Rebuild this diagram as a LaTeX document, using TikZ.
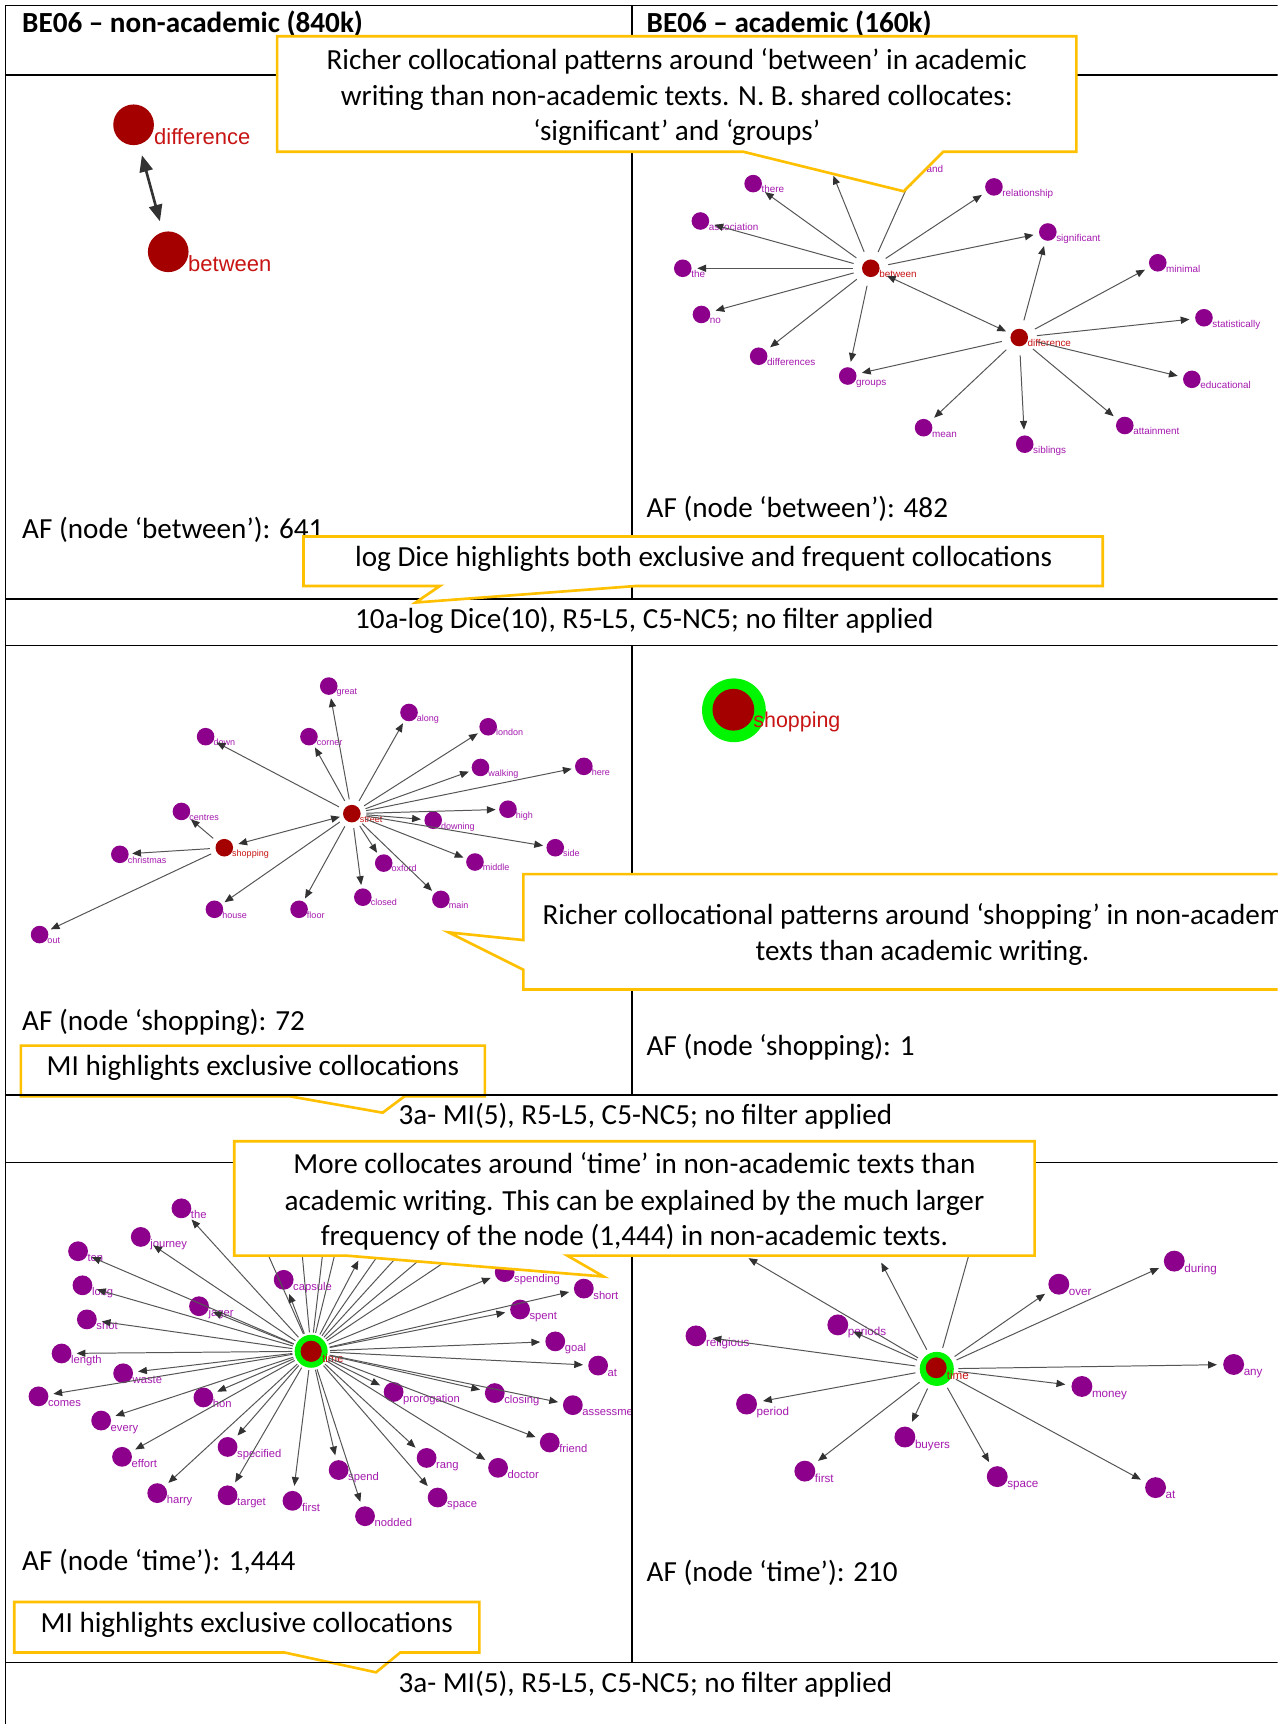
\documentclass[tikz,border=0pt]{standalone}
\usepackage{fontspec}
\setmainfont{Carlito}
\newfontfamily\grfont{Liberation Sans}
\usetikzlibrary{arrows.meta}
\definecolor{purp}{RGB}{140,0,140}
\definecolor{plab}{RGB}{165,25,175}
\definecolor{dred}{RGB}{165,0,0}
\definecolor{rlab}{RGB}{200,20,20}
\definecolor{ringg}{RGB}{0,245,0}
\definecolor{cyel}{RGB}{255,192,0}
\definecolor{egray}{RGB}{85,85,85}
\definecolor{ahead}{RGB}{50,50,50}
\newcommand\PN[4]{\node[pn] (#1) at (#2,#3) {}; \node[lb] (#1-l) at ([shift={(\lx,\ly)}]#1.center) {#4};}
\newcommand\RN[4]{\node[rn] (#1) at (#2,#3) {}; \node[lb,text=rlab] (#1-l) at ([shift={(\lx,\ly)}]#1.center) {#4};}
\begin{document}
\begin{tikzpicture}[x=1pt,y=-1pt,
  pn/.style={circle,fill=purp,inner sep=0pt,minimum size=16pt},
  rn/.style={circle,fill=dred,inner sep=0pt,minimum size=16pt},
  lb/.style={anchor=base west,inner sep=0pt,text=plab,font=\grfont\fontsize{9}{10}\selectfont},
  ed/.style={draw=egray,line width=0.9pt,-{Triangle[length=8pt,width=6.5pt,color=ahead]},shorten >=5pt,shorten <=5pt},
  ded/.style={ed,{Triangle[length=8pt,width=6.5pt,color=ahead]}-{Triangle[length=8pt,width=6.5pt,color=ahead]}},
  ln/.style={draw=egray,line width=0.9pt},
  tl/.style={line width=1.6pt},
  thl/.style={line width=1.1pt},
  txt/.style={inner sep=0pt,font=\fontsize{26.5}{32}\selectfont},
  co/.style={draw=cyel,line width=2.4pt,fill=white,line join=miter},
  big/.style={anchor=base west,inner sep=0pt,text=rlab,font=\grfont\fontsize{20}{22}\selectfont},
]
\useasboundingbox (0,0) rectangle (1162,1568);
\clip (0,0) rectangle (1162,1568);
\fill[white] (0,0) rectangle (1162,1568);

% ---------- graph 1 ----------
\node[circle,fill=dred,inner sep=0pt,minimum size=37pt] (g1diff) at (121.5,113.5) {};
\node[big] (g1diff-l) at (140,131) {difference};
\node[circle,fill=dred,inner sep=0pt,minimum size=37pt] (g1betw) at (153,229) {};
\node[big] (g1betw-l) at (171,247) {between};
\draw[line width=2.4pt,draw=ahead,{Triangle[length=15pt,width=12pt]}-{Triangle[length=15pt,width=12pt]},shorten <=10pt,shorten >=10pt] (g1diff) -- (g1betw);

% ---------- graph 2 ----------
\begin{scope}[ed/.append style={shorten >=5pt,shorten <=8pt}]
\def\lx{7.5}\def\ly{8.5}
\RN{g2betw}{792}{244}{between}
\RN{g2diff}{927}{307}{difference}
\PN{g2there}{685}{167}{there}
\PN{g2assoc}{637}{201}{association}
\PN{g2the}{621}{244}{the}
\PN{g2no}{638}{286}{no}
\PN{g2diffs}{690}{324}{differences}
\PN{g2groups}{771}{342}{groups}
\PN{g2rel}{904}{170}{relationship}
\PN{g2sig}{953}{211}{significant}
\PN{g2min}{1053}{239}{minimal}
\PN{g2stat}{1095}{289}{statistically}
\PN{g2edu}{1084}{345}{educational}
\PN{g2att}{1023}{387}{attainment}
\PN{g2sib}{932}{404}{siblings}
\PN{g2mean}{840}{389}{mean}
\PN{g2and}{835}{148}{and}
\coordinate (g2h) at (756,155);
\foreach \t in {g2there,g2assoc,g2the,g2no,g2diffs,g2groups,g2rel,g2sig,g2and,g2h}
  \draw[ed] (g2betw) -- (\t);
\foreach \t in {g2sig,g2min,g2stat,g2edu,g2att,g2sib,g2mean,g2groups}
  \draw[ed] (g2diff) -- (\t);
\draw[ded] (g2betw) -- (g2diff);
\end{scope}

% ---------- graph 3 ----------
\begin{scope}[lb/.append style={font=\grfont\fontsize{8.2}{9}\selectfont},ed/.append style={shorten >=3pt,shorten <=5pt}]
\def\lx{7}\def\ly{8}
\RN{g3street}{320}{740}{street}
\RN{g3shop}{204}{771}{shopping}
\PN{g3great}{299}{624}{great}
\PN{g3along}{372}{648}{along}
\PN{g3london}{444}{661}{london}
\PN{g3down}{187}{670}{down}
\PN{g3corner}{281}{670}{corner}
\PN{g3walk}{437}{698}{walking}
\PN{g3here}{531}{697}{here}
\PN{g3centres}{165}{738}{centres}
\PN{g3high}{462}{736}{high}
\PN{g3downing}{394}{746}{downing}
\PN{g3side}{505}{771}{side}
\PN{g3xmas}{109}{777}{christmas}
\PN{g3oxford}{349}{785}{oxford}
\PN{g3middle}{432}{784}{middle}
\PN{g3main}{401}{818}{main}
\PN{g3closed}{330}{816}{closed}
\PN{g3house}{195}{827}{house}
\PN{g3floor}{272}{827}{floor}
\PN{g3out}{36}{850}{out}
\foreach \t in {g3great,g3along,g3london,g3down,g3corner,g3walk,g3here,g3high,g3downing,g3side,g3oxford,g3middle,g3main,g3closed,g3floor,g3house}
  \draw[ed] (g3street) -- (\t);
\foreach \t in {g3centres,g3xmas,g3out}
  \draw[ed] (g3shop) -- (\t);
\draw[ded] (g3shop) -- (g3street);
\end{scope}

% ---------- graph 4 ----------
\node[circle,fill=ringg,inner sep=0pt,minimum size=58pt] (g4ring) at (667.5,646) {};
\node[circle,fill=dred,inner sep=0pt,minimum size=38pt] (g4shop) at (667,645.5) {};
\node[big,font=\grfont\fontsize{19.5}{21}\selectfont] (g4shop-l) at (685,662) {shopping};

% ---------- graph 5 ----------
\begin{scope}[pn/.append style={minimum size=18pt},lb/.append style={font=\grfont\fontsize{10.2}{11}\selectfont},ed/.append style={shorten >=4.5pt,shorten <=2pt}]
\clip (5,1057) rectangle (574,1512);
\def\lx{8.5}\def\ly{9.5}
\node[circle,fill=ringg,inner sep=0pt,minimum size=30pt] (g5time) at (283,1229) {};
\node[circle,fill=dred,inner sep=0pt,minimum size=19pt] (g5timec) at (283,1229) {};
\node[lb,text=rlab] (g5time-l) at (293,1239) {time};
\PN{g5hid}{221}{1090}{}
\PN{g5the}{165}{1099}{the}
\PN{g5jour}{128}{1125}{journey}
\PN{g5ten}{71}{1138}{ten}
\PN{g5long}{75}{1169}{long}
\PN{g5caps}{258}{1164}{capsule}
\PN{g5jag}{181}{1188}{jager}
\PN{g5shot}{79}{1200}{shot}
\PN{g5len}{56}{1231}{length}
\PN{g5waste}{112}{1249}{waste}
\PN{g5comes}{35}{1270}{comes}
\PN{g5hon}{185}{1271}{hon}
\PN{g5every}{92}{1292}{every}
\PN{g5effort}{111}{1325}{effort}
\PN{g5spec}{207}{1316}{specified}
\PN{g5harry}{143}{1358}{harry}
\PN{g5target}{207}{1360}{target}
\PN{g5first}{266}{1365}{first}
\PN{g5spend}{308}{1337}{spend}
\PN{g5nod}{332}{1379}{nodded}
\PN{g5rang}{388}{1326}{rang}
\PN{g5space}{398}{1362}{space}
\PN{g5doc}{453}{1335}{doctor}
\PN{g5pro}{358}{1266}{prorogation}
\PN{g5clos}{450}{1267}{closing}
\PN{g5ass}{521}{1278}{assessment}
\PN{g5friend}{500}{1312}{friend}
\PN{g5short}{531}{1172}{short}
\PN{g5sping}{459}{1157}{spending}
\PN{g5spent}{473}{1191}{spent}
\PN{g5goal}{505}{1220}{goal}
\PN{g5at}{544}{1242}{at}
\coordinate (h5a) at (272,1110);
\coordinate (h5b) at (297,1110);
\coordinate (h5c) at (312,1110);
\coordinate (h5d) at (328,1142.5);
\coordinate (h5e) at (366,1110);
\coordinate (h5f) at (391,1110);
\coordinate (h5g) at (424,1110);
\coordinate (h5h) at (461,1110);
\foreach \t in {g5hid,g5the,g5jour,g5ten,g5long,g5caps,g5jag,g5shot,g5len,g5waste,g5comes,g5hon,g5every,g5effort,g5spec,g5harry,g5target,g5first,g5spend,g5nod,g5rang,g5space,g5doc,g5pro,g5clos,g5ass,g5friend,g5short,g5sping,g5spent,g5goal,g5at,h5d}
  \draw[ed] (g5time) -- (\t);
\foreach \t in {h5a,h5b,h5c,h5e,h5f,h5g,h5h}
  \draw[ln,shorten <=2pt] (g5time) -- (\t);
\node[circle,fill=dred,inner sep=0pt,minimum size=19pt] at (g5time) {};
\end{scope}

% ---------- graph 6 ----------
\begin{scope}[pn/.append style={minimum size=19pt},lb/.append style={font=\grfont\fontsize{10.6}{12}\selectfont},ed/.append style={shorten >=5.5pt,shorten <=4pt}]
\def\lx{9}\def\ly{10}
\node[circle,fill=ringg,inner sep=0pt,minimum size=31pt] (g6time) at (852,1245) {};
\node[circle,fill=dred,inner sep=0pt,minimum size=19pt] (g6timec) at (851.5,1244) {};
\node[lb,text=rlab] (g6time-l) at (861,1255) {time};
\PN{g6during}{1068}{1147}{during}
\PN{g6over}{963}{1168}{over}
\PN{g6any}{1122}{1241}{any}
\PN{g6money}{984}{1261}{money}
\PN{g6at}{1051}{1353}{at}
\PN{g6space}{907}{1343}{space}
\PN{g6buyers}{823}{1307}{buyers}
\PN{g6first}{732}{1338}{first}
\PN{g6period}{679}{1277}{period}
\PN{g6relig}{633}{1215}{religious}
\PN{g6periods}{762}{1205}{periods}
\coordinate (h6a) at (676,1141.5);
\coordinate (h6b) at (799,1143.5);
\coordinate (h6c) at (890,1110);
\foreach \t in {g6during,g6over,g6any,g6money,g6at,g6space,g6buyers,g6first,g6period,g6relig,g6periods,h6a,h6b}
  \draw[ed] (g6time) -- (\t);
\draw[ln,shorten <=4pt] (g6time) -- (h6c);
\end{scope}

% ---------- table ----------
\draw[tl] (5,5) -- (1162,5);
\draw[tl] (5,5) -- (5,1568);
\draw[tl] (5,68) -- (1162,68);
\draw[tl] (575,5) -- (575,545);
\draw[tl] (575,587) -- (575,996);
\draw[tl] (575,1057) -- (575,1512);
\draw[tl] (5,545) -- (1162,545);
\draw[thl] (5,587) -- (1162,587);
\draw[thl] (5,1057) -- (1162,1057);

% ---------- cell texts ----------
\node[txt,anchor=base west,font=\bfseries\fontsize{26.5}{32}\selectfont] (h1) at (20,30) {BE06 – non-academic (840k)};
\node[txt,anchor=base west,font=\bfseries\fontsize{26.5}{32}\selectfont] (h2) at (588,30) {BE06 – academic (160k)};
\node[txt,anchor=base west] (af1) at (20,490) {AF (node ‘between’): 641};
\node[txt,anchor=base west] (af2) at (588,471) {AF (node ‘between’): 482};
\node[txt,anchor=base] (cap1) at (586,572) {10a-log Dice(10), R5-L5, C5-NC5; no filter applied};
\node[txt,anchor=base west] (af3) at (20,937) {AF (node ‘shopping): 72};
\node[txt,anchor=base west] (af4) at (588,960) {AF (node ‘shopping): 1};
\node[txt,anchor=base] (cap2) at (587,1023) {3a- MI(5), R5-L5, C5-NC5; no filter applied};
\node[txt,anchor=base west] (af5) at (20,1428) {AF (node ‘time’): 1,444};
\node[txt,anchor=base west] (af6) at (588,1438) {AF (node ‘time’): 210};
\node[txt,anchor=base] (cap3) at (587,1539) {3a- MI(5), R5-L5, C5-NC5; no filter applied};

% ---------- callouts ----------
\path[co] (252,33) -- (979,33) -- (979,138) -- (858,138) -- (822,174) -- (676,138) -- (252,138) -- cycle;
\node[txt,anchor=base] (c1a) at (615.5,63.5) {Richer collocational patterns around ‘between’ in academic};
\node[txt,anchor=base] (c1b) at (615.5,95.5) {writing than non-academic texts. N. B. shared collocates:};
\node[txt,anchor=base] (c1c) at (615.5,127.5) {‘significant’ and ‘groups’};

\path[co] (276,488) -- (1003,488) -- (1003,533) -- (578,533) -- (378,548) -- (400,533) -- (276,533) -- cycle;
\node[txt,anchor=base] (c2a) at (640,515.5) {log Dice highlights both exclusive and frequent collocations};

\path[co] (476,795) -- (1210,795) -- (1210,900) -- (476,900) -- (476,882) -- (408,848) -- (476,855) -- cycle;
\node[txt,anchor=base] (c3a) at (839,840.5) {Richer collocational patterns around ‘shopping’ in non-academic};
\node[txt,anchor=base] (c3b) at (839,873.5) {texts than academic writing.};

\path[co] (19,951) -- (441,951) -- (441,997) -- (368,997) -- (348,1012) -- (263,997) -- (19,997) -- cycle;
\node[txt,anchor=base] (c4a) at (230,978.5) {MI highlights exclusive collocations};
\draw[tl] (5,996) -- (1162,996);

\path[co] (213,1038) -- (941,1038) -- (941,1142) -- (516,1142) -- (549,1161) -- (315,1142) -- (213,1142) -- cycle;
\node[txt,anchor=base] (c5a) at (577,1067.5) {More collocates around ‘time’ in non-academic texts than};
\node[txt,anchor=base] (c5b) at (577,1100.5) {academic writing. This can be explained by the much larger};
\node[txt,anchor=base] (c5c) at (577,1132.5) {frequency of the node (1,444) in non-academic texts.};

\path[co] (13,1457) -- (436,1457) -- (436,1503) -- (364,1503) -- (342,1521) -- (259,1503) -- (13,1503) -- cycle;
\node[txt,anchor=base] (c6a) at (224.5,1484.5) {MI highlights exclusive collocations};
\draw[tl] (5,1512) -- (1162,1512);
\end{tikzpicture}
\end{document}
